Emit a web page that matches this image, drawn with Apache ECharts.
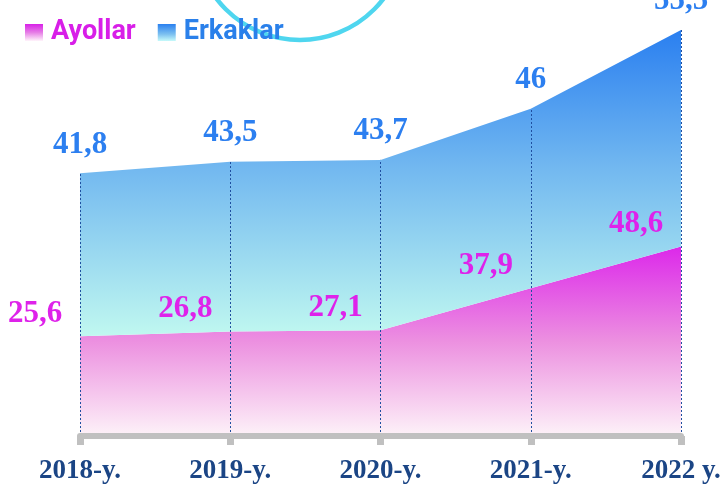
<!DOCTYPE html>
<html>
<head>
<meta charset="utf-8">
<script src="https://cdn.jsdelivr.net/npm/echarts@6/dist/echarts.min.js"></script>
<style>
    html, body { margin: 0; padding: 0; background: #fff; }
    #chart { width: 727px; height: 486px; }
</style>
</head>
<body>
<div id="chart"></div>
<script>
    // yillar va qiymatlar
    const years = ['2018-y.', '2019-y.', '2020-y.', '2021-y.', '2022 y.'];
    const ayollar = [25.6, 26.8, 27.1, 37.9, 48.6];
    const erkaklar = [41.8, 43.5, 43.7, 46, 55.5];
    const names = ['Ayollar', 'Erkaklar'];

    const totals = ayollar.map((v, i) => v + erkaklar[i]);

    const grad = (stops) => new echarts.graphic.LinearGradient(0, 0, 0, 1,
        stops.map(s => ({offset: s[0], color: s[1]})));

    const pinkFill = grad([[0, '#dc28ea'], [0.5, '#ec90e0'], [1, '#fdf2f8']]);
    const blueFill = grad([[0, '#2a7ff0'], [0.45, '#72b8f0'], [1, '#c0f8f0']]);
    const pinkIcon = grad([[0, '#d820e8'], [0.5, '#e67ee6'], [1, '#fff4fb']]);
    const blueIcon = grad([[0, '#2a80f0'], [0.6, '#7cc0f0'], [1, '#c6fafa']]);

    const fmt = p => String(p.value).replace('.', ',');
    const serif = 'Liberation Serif';

    const chart = echarts.init(document.getElementById('chart'));
    chart.setOption({
        animation: false,
        graphic: [{
            type: 'circle',
            z: -1,
            shape: {cx: 300, cy: -65, r: 105},
            style: {fill: 'none', stroke: '#4fd6ef', lineWidth: 4.5}
        }],
        legend: {
            left: 20, top: 14,
            itemWidth: 18, itemHeight: 17, itemGap: 22,
            selectedMode: false,
            textStyle: {fontFamily: 'Roboto', fontWeight: 'bold', fontSize: 27, padding: [0, 0, 0, 3]},
            data: [
                {name: names[0], icon: 'rect', itemStyle: {color: pinkIcon}, textStyle: {color: '#d81ee8'}},
                {name: names[1], icon: 'rect', itemStyle: {color: blueIcon}, textStyle: {color: '#2a80ea'}}
            ]
        },
        grid: {left: 80, right: 46, top: 7, bottom: 50},
        xAxis: {
            type: 'category',
            z: 5,
            data: years,
            boundaryGap: false,
            axisLine: {lineStyle: {color: '#c0c0c0', width: 6}},
            axisTick: {length: 9, lineStyle: {color: '#c0c0c0', width: 7}},
            axisLabel: {
                interval: 0, margin: 22,
                fontFamily: serif, fontWeight: 'bold', fontSize: 27, color: '#1b4585'
            },
            splitLine: {show: false}
        },
        yAxis: {type: 'value', min: 0, max: 110, show: false},
        series: [{
            name: names[0],
            type: 'line',
            stack: 'all',
            data: ayollar,
            symbol: 'circle',
            symbolSize: 0.1,
            lineStyle: {width: 0},
            itemStyle: {color: '#dc28ea'},
            areaStyle: {color: pinkFill, opacity: 1},
            label: {
                show: true, position: 'top', distance: 7, offset: [-45, 0],
                formatter: fmt,
                fontFamily: serif, fontWeight: 'bold', fontSize: 31, color: '#de22ea'
            }
        }, {
            name: names[1],
            type: 'line',
            stack: 'all',
            data: erkaklar,
            symbol: 'circle',
            symbolSize: 0.1,
            lineStyle: {width: 0},
            itemStyle: {color: '#2a7ff0'},
            areaStyle: {color: blueFill, opacity: 1},
            label: {
                show: true, position: 'top', distance: 13,
                formatter: fmt,
                fontFamily: serif, fontWeight: 'bold', fontSize: 31, color: '#2c7ff0'
            }
        }, {
            // nuqtali vertikal chiziqlar
            name: 'guide',
            type: 'line',
            data: [],
            silent: true,
            markLine: {
                silent: true,
                symbol: ['none', 'none'],
                label: {show: false},
                lineStyle: {color: '#1f4fa0', width: 1, type: [2, 2]},
                data: totals.map((t, i) => [{coord: [years[i], 0]}, {coord: [years[i], t]}])
            }
        }]
    });
</script>
</body>
</html>
